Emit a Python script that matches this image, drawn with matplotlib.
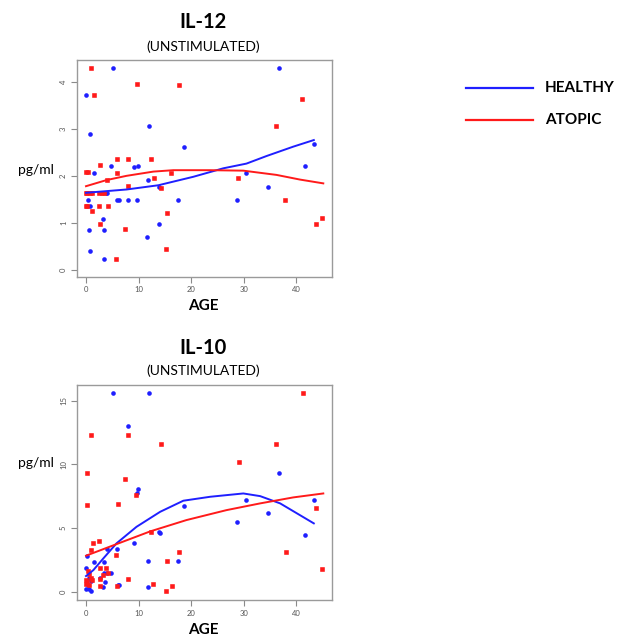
import matplotlib
matplotlib.use("Agg")
import matplotlib.pyplot as plt
from matplotlib.lines import Line2D

plt.rcParams['font.family'] = ['Lato', 'DejaVu Sans']

# ---------------- DATA ----------------
# IL-12 healthy (age, pg/ml)
h12_age = [5.1, 36.6, 0, 0.7, 12.0, 18.6, 43.3, 4.7, 9.1, 9.9, 41.6, 1.6, 30.4, 11.7, 13.8, 34.6,
           3.8, 4.0, 0.4, 5.8, 6.3, 7.9, 9.7, 17.4, 28.7, 0.8, 3.2, 13.9, 0.6, 3.4, 11.6, 0.8, 3.5]
h12_val = [4.30, 4.30, 3.71, 2.89, 3.06, 2.62, 2.67, 2.21, 2.18, 2.21, 2.21, 2.07, 2.05, 1.91, 1.77, 1.77,
           1.64, 1.64, 1.49, 1.49, 1.49, 1.49, 1.49, 1.49, 1.49, 1.36, 1.08, 0.97, 0.84, 0.84, 0.71, 0.40, 0.24]
# IL-12 atopic
a12_age = [0.9, 1.5, 9.6, 17.7, 41.1, 36.1, 5.9, 8.0, 12.3, 2.7, 0, 0.3, 5.8, 16.2, 3.9, 12.9, 28.9,
           8.0, 14.3, 0, 0.25, 0.7, 1.2, 2.5, 3.1, 3.5, 37.9, 0, 0.2, 2.5, 4.1, 1.1, 15.3, 44.9,
           43.7, 2.7, 7.4, 15.2, 5.7]
a12_val = [4.30, 3.71, 3.96, 3.93, 3.63, 3.06, 2.36, 2.36, 2.36, 2.22, 2.09, 2.09, 2.07, 2.07, 1.92, 1.96, 1.96,
           1.78, 1.75, 1.63, 1.63, 1.63, 1.63, 1.63, 1.63, 1.63, 1.49, 1.36, 1.36, 1.36, 1.36, 1.25, 1.22, 1.10,
           0.97, 0.97, 0.88, 0.45, 0.23]
# IL-12 smoothed curves
h12_fit_age = [0, 7.7, 13.75, 20.4, 26.1, 30.5, 34.3, 39.4, 43.3]
h12_fit_val = [1.64, 1.71, 1.80, 1.98, 2.16, 2.26, 2.42, 2.62, 2.76]
a12_fit_age = [0, 3.9, 7.7, 12.8, 16.6, 23.6, 29.9, 36.2, 40.7, 45.1]
a12_fit_val = [1.78, 1.91, 2.00, 2.09, 2.12, 2.12, 2.11, 2.02, 1.92, 1.84]

# IL-10 healthy
h10_age = [5.1, 12.0, 7.9, 9.8, 9.6, 36.6, 30.4, 43.3, 18.6, 34.6, 28.7, 13.8, 14.0, 41.7, 9.1, 3.9, 5.8,
           0.25, 1.5, 3.5, 11.7, 17.4, 0, 3.5, 3.9, 4.7, 2.6, 0.6, 1.0, 3.6, 0.4, 6.0, 6.3, 11.7, 3.2,
           0, 0.6, 0.9]
h10_val = [15.65, 15.65, 13.04, 8.09, 7.77, 9.35, 7.2, 7.2, 6.73, 6.18, 5.45, 4.69, 4.58, 4.45, 3.85, 3.32, 3.32,
           2.83, 2.36, 2.30, 2.41, 2.41, 1.83, 1.47, 1.47, 1.47, 1.1, 1.1, 0.85, 0.75, 0.5, 0.5, 0.5, 0.39, 0.34,
           0.2, 0.2, 0.05]
# IL-10 atopic
a10_age = [41.2, 0.9, 8.0, 14.3, 36.2, 29.0, 0.25, 7.4, 9.5, 6.0, 0.1, 43.8, 12.3, 2.5, 1.4, 1.0, 17.7,
           38.1, 5.7, 15.3, 2.7, 3.8, 44.9, 0.3, 0.5, 4.1, 3.3, 1.0, 0, 0.1, 0, 1.2, 2.7, 8.0, 12.8, 16.3,
           5.8, 2.7, 0.5, 15.2]
a10_val = [15.65, 12.3, 12.3, 11.57, 11.57, 10.2, 9.35, 8.82, 7.59, 6.88, 6.8, 6.54, 4.69, 3.95, 3.80, 3.27, 3.14,
           3.12, 2.88, 2.38, 1.86, 1.86, 1.81, 1.6, 1.4, 1.45, 1.3, 1.1, 0.9, 0.75, 0.6, 0.9, 0.97, 0.97, 0.58, 0.47,
           0.47, 0.45, 0.5, 0.08]
# IL-10 smoothed curves
h10_fit_age = [0, 1.4, 3.3, 5.8, 9.6, 14.1, 18.5, 23.6, 29.9, 33.1, 36.9, 43.3]
h10_fit_val = [1.23, 1.70, 2.62, 3.80, 5.10, 6.28, 7.15, 7.46, 7.72, 7.51, 6.94, 5.37]
a10_fit_age = [0, 5.8, 12.2, 19.1, 26.7, 33.1, 39.4, 45.1]
a10_fit_val = [2.83, 3.74, 4.74, 5.63, 6.41, 6.94, 7.41, 7.72]

x_ticks = [0, 10, 20, 30, 40]
y12_ticks = [0, 1, 2, 3, 4]
y10_ticks = [0, 5, 10, 15]
series_names = ["HEALTHY", "ATOPIC"]
BLUE = "#1f1fff"
RED = "#ff1a1a"

# ---------------- FIGURE ----------------
W, H = 624, 637
fig = plt.figure(figsize=(W / 100, H / 100), dpi=100)


def px_axes(left, top, right, bottom):
    return fig.add_axes([left / W, 1 - bottom / H, (right - left) / W, (bottom - top) / H])


def style(ax, yticks, xlim, ylim):
    ax.set_xlim(*xlim)
    ax.set_ylim(*ylim)
    ax.set_xticks(x_ticks)
    ax.set_yticks(yticks)
    for sp in ax.spines.values():
        sp.set_color("#9a9a9a")
        sp.set_linewidth(1.0)
    ax.tick_params(direction="out", length=4, width=0.8, color="#8a8a8a",
                   labelsize=5.5, labelcolor="#555555", pad=3)
    for lab in ax.get_yticklabels():
        lab.set_rotation(90)
        lab.set_va("center")


def draw(ax, ha, hv, aa, av, hfa, hfv, afa, afv):
    ax.scatter(ha, hv, s=11, marker="o", color=BLUE, linewidths=0, zorder=3, snap=False)
    ax.scatter(aa, av, s=11, marker="s", color=RED, linewidths=0, zorder=3, snap=False)
    ax.plot(hfa, hfv, color=BLUE, lw=1.4, zorder=4, solid_joinstyle="round")
    ax.plot(afa, afv, color=RED, lw=1.4, zorder=4, solid_joinstyle="round")


ax1 = px_axes(76.7, 60, 331.7, 276.7)
draw(ax1, h12_age, h12_val, a12_age, a12_val, h12_fit_age, h12_fit_val, a12_fit_age, a12_fit_val)
style(ax1, y12_ticks, (-1.77, 46.7), (-0.142, 4.46))

ax2 = px_axes(76.7, 385, 331.7, 600)
draw(ax2, h10_age, h10_val, a10_age, a10_val, h10_fit_age, h10_fit_val, a10_fit_age, a10_fit_val)
style(ax2, y10_ticks, (-1.77, 46.7), (-0.65, 16.24))


def ftext(x, y, s, **kw):
    fig.text(x / W, 1 - y / H, s, ha="center", va="center", **kw)


ftext(203, 22, "IL-12", fontsize=14.5, fontweight="bold")
ftext(203, 47, "(UNSTIMULATED)", fontsize=10)
ftext(203, 306, "AGE", fontsize=11, fontweight="bold")
ftext(36, 170, "pg/ml", fontsize=10)

ftext(203, 348, "IL-10", fontsize=14.5, fontweight="bold")
ftext(203, 371, "(UNSTIMULATED)", fontsize=10)
ftext(203, 630, "AGE", fontsize=11, fontweight="bold")
ftext(36, 463, "pg/ml", fontsize=10)

# legend
for (name, col, yy) in [(series_names[0], BLUE, 88), (series_names[1], RED, 120)]:
    fig.add_artist(Line2D([466 / W, 533 / W], [1 - yy / H, 1 - yy / H], color=col, lw=1.6))
    fig.text(545 / W, 1 - yy / H, name, ha="left", va="center", fontsize=11, fontweight="bold")

fig.savefig("out.png", dpi=100)
